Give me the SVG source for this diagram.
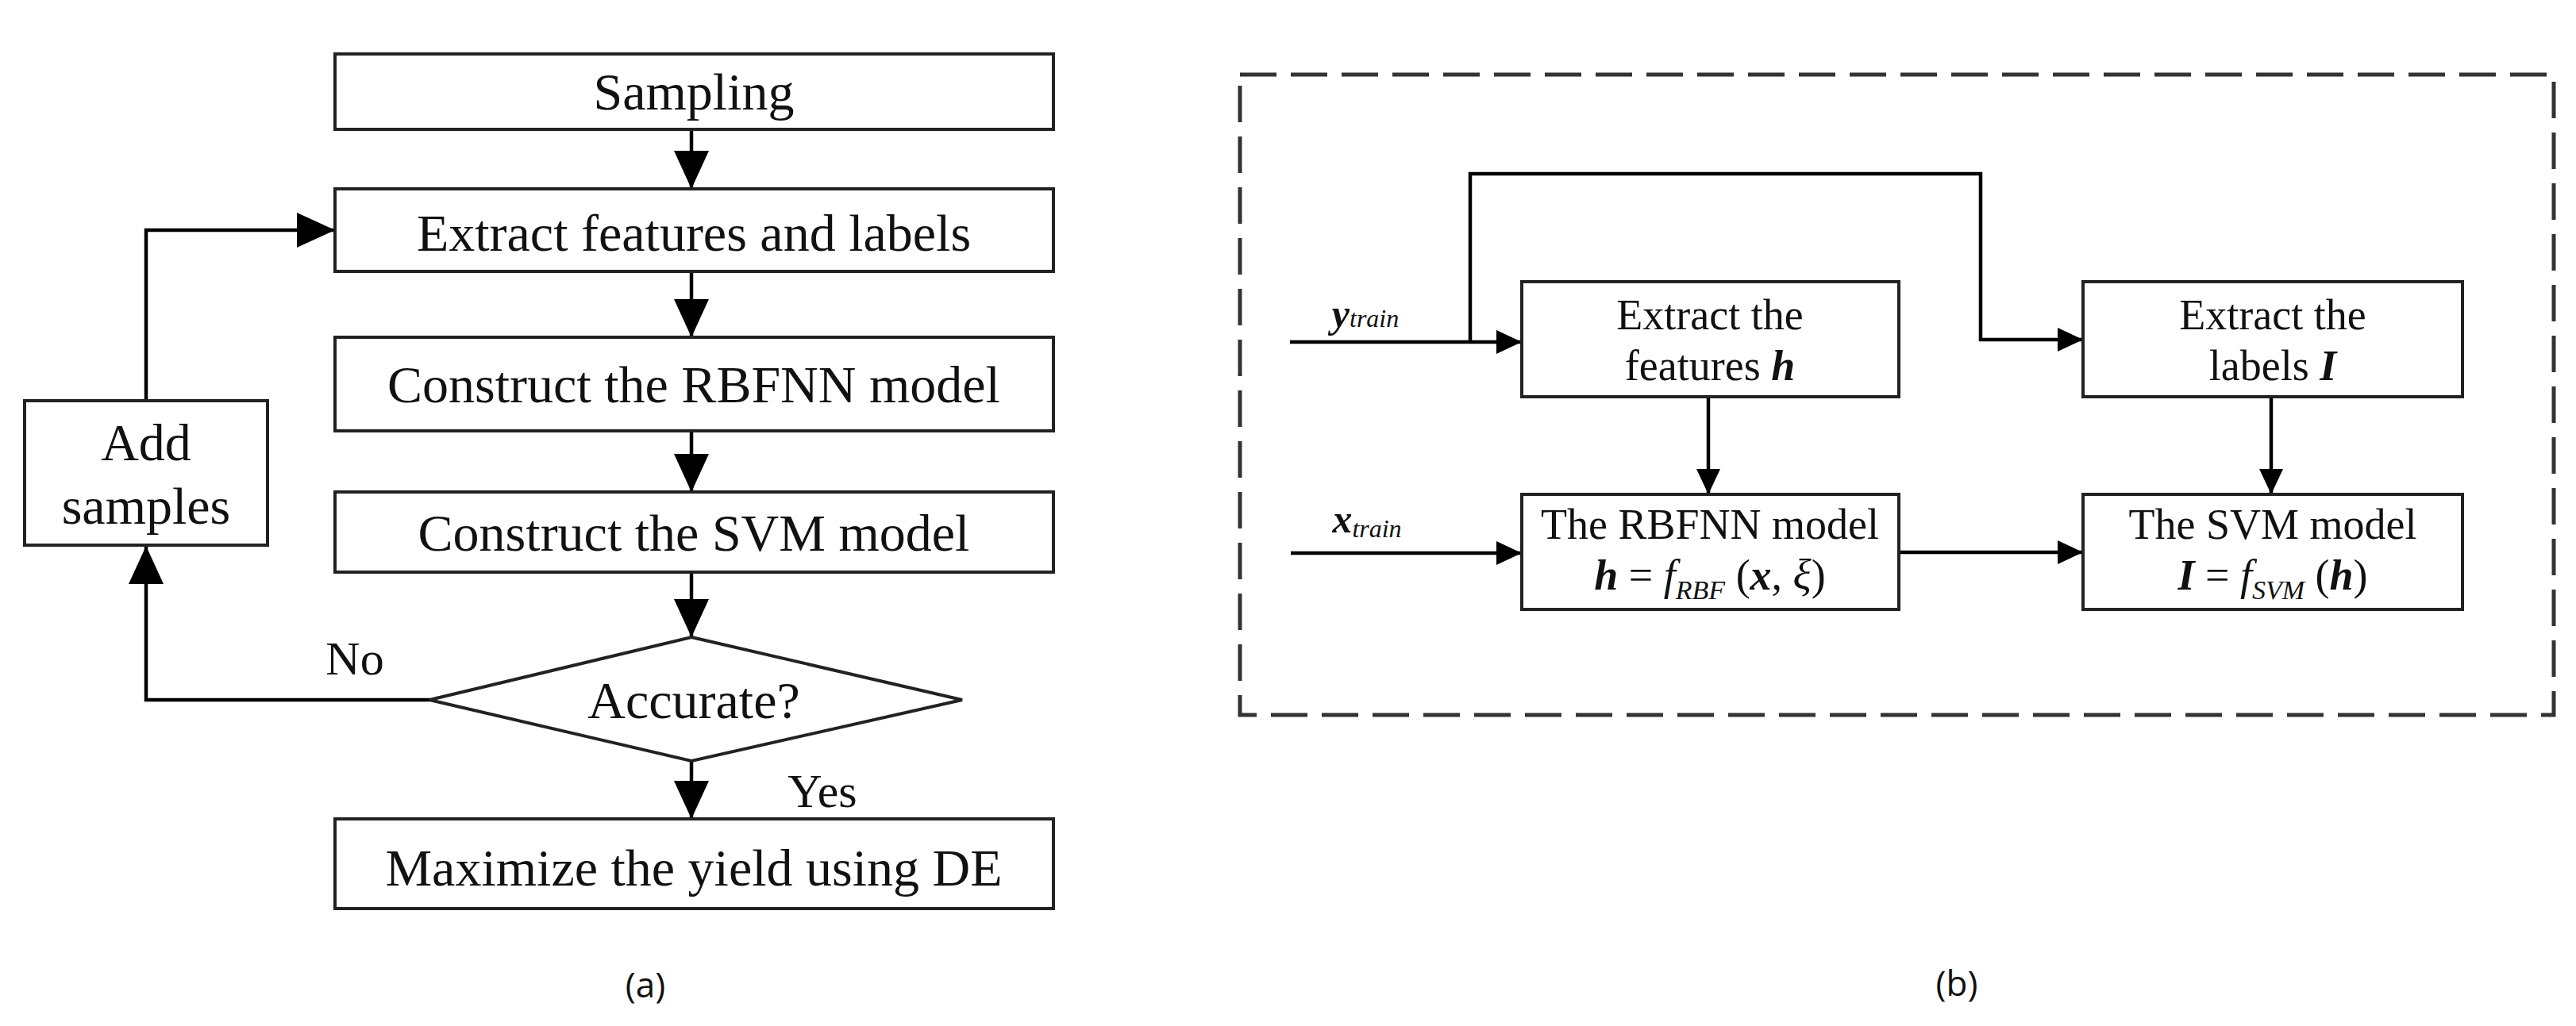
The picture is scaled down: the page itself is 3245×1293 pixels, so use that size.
<svg xmlns="http://www.w3.org/2000/svg" width="3245" height="1293" viewBox="0 0 3245 1293">
<style>
.box{fill:#fff;stroke:#222;stroke-width:4}
.c{fill:none;stroke:#000;stroke-width:4.5}
.t{font-family:"Liberation Serif",serif;fill:#111;text-anchor:middle}
.L{font-size:66px}
.R{font-size:54px}
.cap{font-family:"Open Sans","Liberation Sans",sans-serif;font-size:44px;fill:#111;text-anchor:middle}
.bi{font-weight:bold;font-style:italic}
.it{font-style:italic}
</style>
<defs>
<marker id="big" viewBox="0 0 48 44" refX="48" refY="22" markerWidth="48" markerHeight="44" markerUnits="userSpaceOnUse" orient="auto"><path d="M0,0L48,22L0,44z" fill="#000"/></marker>
<marker id="sm" viewBox="0 0 32 30" refX="32" refY="15" markerWidth="32" markerHeight="30" markerUnits="userSpaceOnUse" orient="auto"><path d="M0,0L32,15L0,30z" fill="#000"/></marker>
</defs>
<rect width="3245" height="1293" fill="#fff"/>

<g id="connectors">
<path class="c" d="M871,163V238" marker-end="url(#big)"/>
<path class="c" d="M871,342V425" marker-end="url(#big)"/>
<path class="c" d="M871,543V620" marker-end="url(#big)"/>
<path class="c" d="M871,721V803" marker-end="url(#big)"/>
<path class="c" d="M871,959V1032" marker-end="url(#big)"/>
<path class="c" d="M541,882H184V688" marker-end="url(#big)"/>
<path class="c" d="M184,505V290H422" marker-end="url(#big)"/>
<path class="c" d="M1625,431H1917" marker-end="url(#sm)"/>
<path class="c" d="M1852,431V219H2495V428H2624" marker-end="url(#sm)"/>
<path class="c" d="M1626,697H1917" marker-end="url(#sm)"/>
<path class="c" d="M2392,696H2624" marker-end="url(#sm)"/>
<path class="c" d="M2152,500V623" marker-end="url(#sm)"/>
<path class="c" d="M2861,500V623" marker-end="url(#sm)"/>
</g>

<g id="sampling"><rect class="box" x="422" y="68" width="905" height="95"/><text class="t L" x="874" y="138">Sampling</text></g>
<g id="extract"><rect class="box" x="422" y="238" width="905" height="104"/><text class="t L" x="874" y="316">Extract features and labels</text></g>
<g id="rbfnn"><rect class="box" x="422" y="425" width="905" height="118"/><text class="t L" x="874" y="507">Construct the RBFNN model</text></g>
<g id="svm"><rect class="box" x="422" y="620" width="905" height="101"/><text class="t L" x="874" y="694">Construct the SVM model</text></g>
<g id="accurate"><path class="box" d="M871,803L1212,882L871,959L541,882z"/><text class="t L" x="874" y="905">Accurate?</text></g>
<g id="maximize"><rect class="box" x="422" y="1032" width="905" height="113"/><text class="t L" x="874" y="1116">Maximize the yield using DE</text></g>
<g id="add"><rect class="box" x="31" y="505" width="306" height="182"/><text class="t L" x="184" y="580">Add</text><text class="t L" x="184" y="660">samples</text></g>
<text class="t" font-size="60" x="447" y="850">No</text>
<text class="t" font-size="60" x="1036" y="1017">Yes</text>
<text class="cap" x="813" y="1257">(a)</text>

<g id="frame"><rect x="1562" y="94" width="1655" height="807" fill="none" stroke="#333" stroke-width="5" stroke-dasharray="46,18"/></g>
<g id="ext-h"><rect class="box" x="1917" y="355" width="475" height="145"/><text class="t R" x="2154" y="415">Extract the</text><text class="t R" x="2154" y="479">features <tspan class="bi">h</tspan></text></g>
<g id="ext-l"><rect class="box" x="2624" y="355" width="478" height="145"/><text class="t R" x="2863" y="415">Extract the</text><text class="t R" x="2863" y="479">labels <tspan class="bi">I</tspan></text></g>
<g id="rbf-model"><rect class="box" x="1917" y="623" width="475" height="145"/><text class="t R" x="2154" y="679">The RBFNN model</text><text class="t R" x="2154" y="743"><tspan class="bi">h</tspan> = <tspan class="it">f</tspan><tspan class="it" font-size="34" dy="12">RBF</tspan><tspan dy="-12"> (</tspan><tspan class="bi">x</tspan>, <tspan class="it">ξ</tspan>)</text></g>
<g id="svm-model"><rect class="box" x="2624" y="623" width="478" height="145"/><text class="t R" x="2863" y="679">The SVM model</text><text class="t R" x="2863" y="743"><tspan class="bi">I</tspan> = <tspan class="it">f</tspan><tspan class="it" font-size="34" dy="12">SVM</tspan><tspan dy="-12"> (</tspan><tspan class="bi">h</tspan>)</text></g>
<text class="t" font-size="50" x="1720" y="412"><tspan class="bi">y</tspan><tspan class="it" font-size="32">train</tspan></text>
<text class="t" font-size="50" x="1722" y="671"><tspan class="bi">x</tspan><tspan class="it" font-size="32" dy="6">train</tspan></text>
<text class="cap" x="2465" y="1255">(b)</text>
</svg>
